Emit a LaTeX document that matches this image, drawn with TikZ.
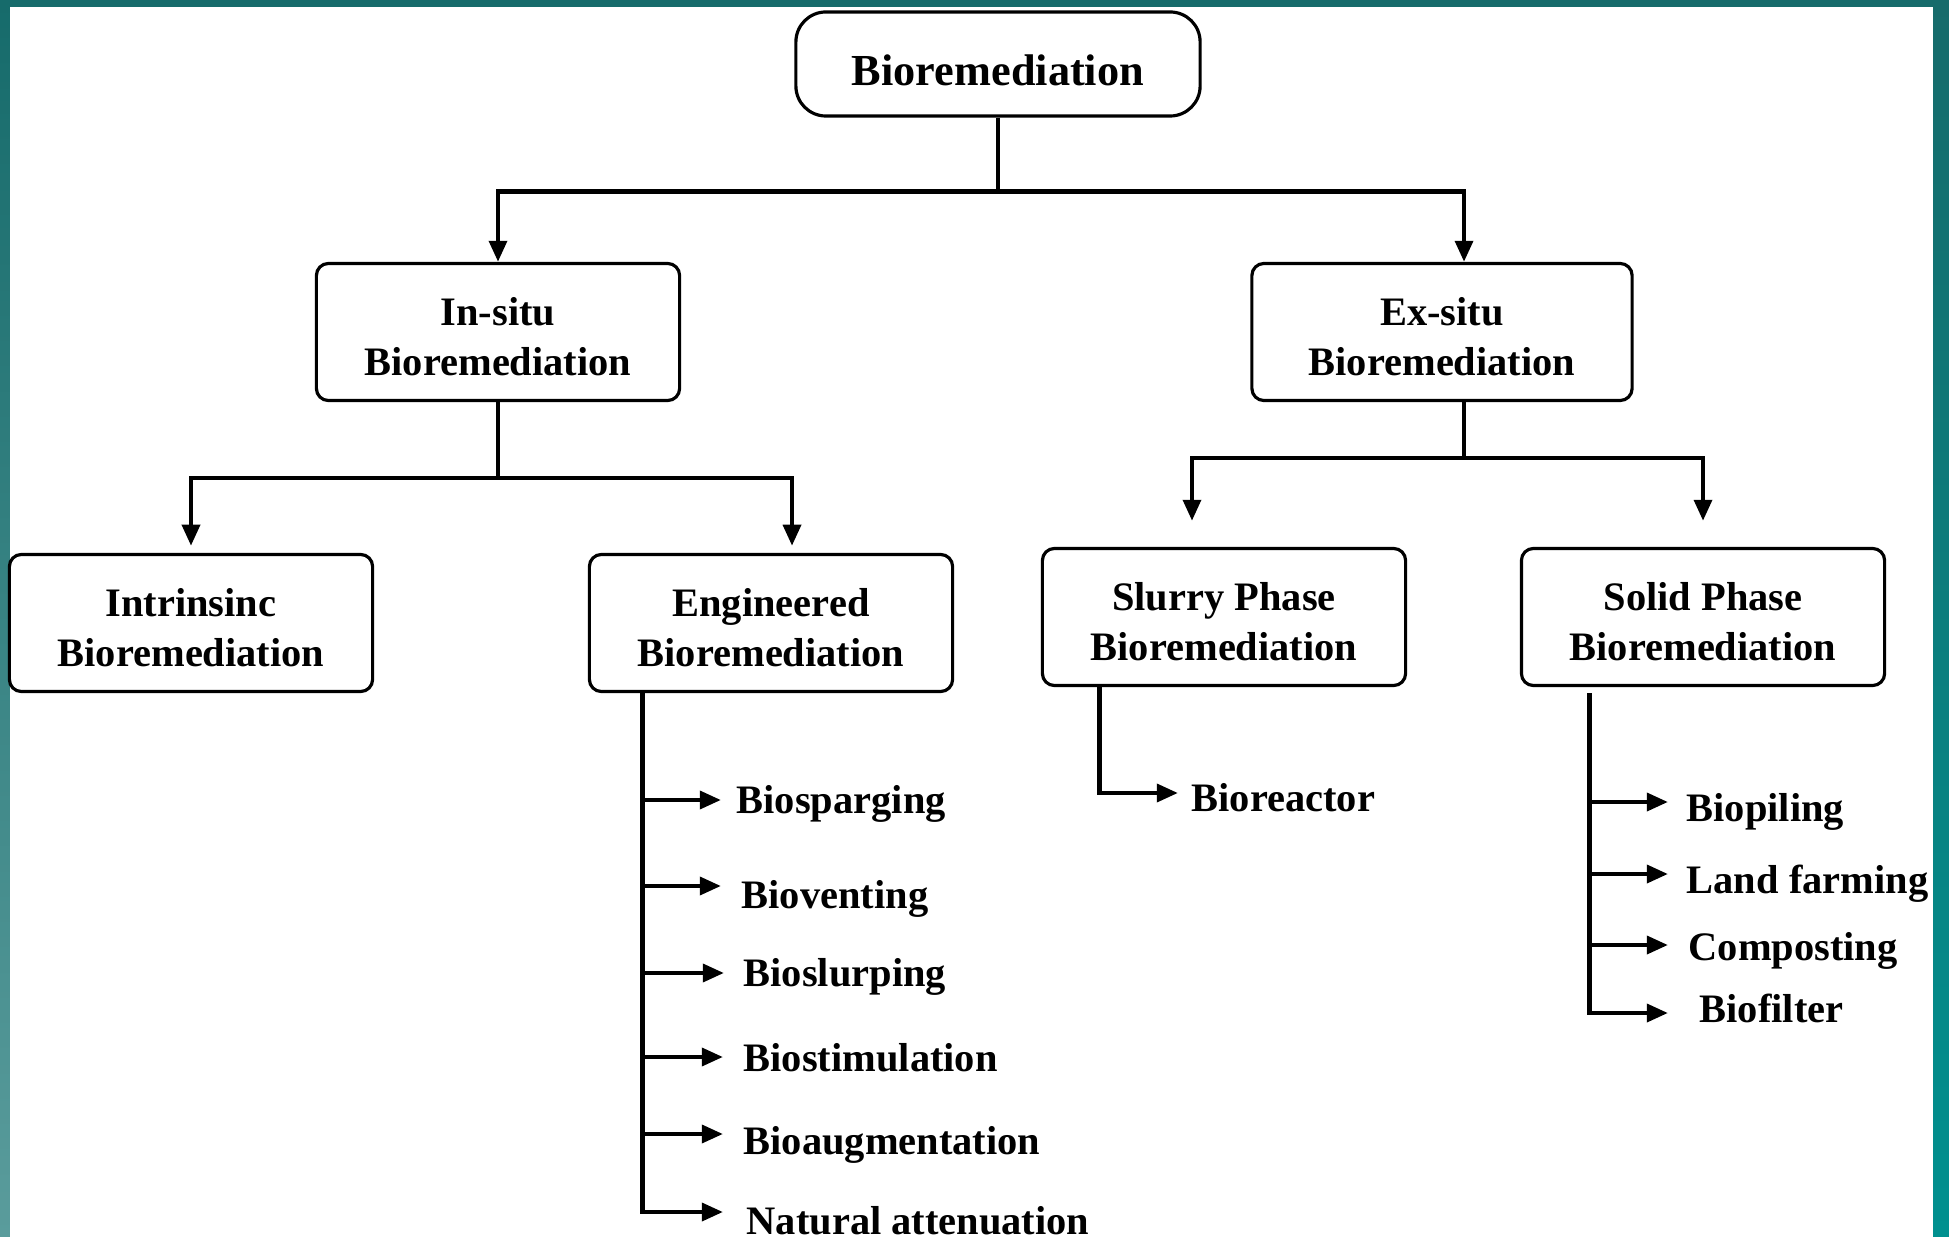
\documentclass[tikz,border=0pt]{standalone}
\usepackage{fontspec}
\setmainfont{Liberation Serif}
\usetikzlibrary{arrows.meta,positioning}
\definecolor{frameteal}{HTML}{166B6B}
\definecolor{frametealb}{HTML}{5A9C9C}
\definecolor{frametealc}{HTML}{00908F}

\begin{document}
\begin{tikzpicture}[x=0.01cm, y=-0.01cm, >={Triangle[length=6pt,width=5pt]}, font=\bfseries\fontsize{11.5}{14.2}\selectfont]
\tikzstyle{box}=[draw, line width=0.9pt, rounded corners=0.12cm, align=center, minimum width=3.63cm, minimum height=1.37cm, inner sep=2pt, text height=24.8pt]
\tikzstyle{conn}=[line width=1.3pt]
\tikzstyle{item}=[anchor=west, inner sep=0pt, text height=7.6pt, text depth=0pt]

\useasboundingbox (0,0) rectangle (1949,1237);
% teal frame round the page
\fill[frameteal] (0,0) rectangle (1949,1237);
\shade[top color=frameteal, bottom color=frametealb] (0,0) rectangle (10,1237);
\shade[top color=frameteal, bottom color=frametealc] (1933,0) rectangle (1949,1237);
\fill[white] (10,7) rectangle (1933,1237);

% boxes
\node[box, rounded corners=0.3cm, minimum width=4.04cm, minimum height=1.04cm, text height=12.1pt, font=\bfseries\fontsize{12.6}{15}\selectfont] (bio) at (998,64) {Bioremediation};
\node[box] (insitu) at (498,332) {In-situ\\Bioremediation};
\node[box, minimum width=3.8cm] (exsitu) at (1442,332) {Ex-situ\\Bioremediation};
\node[box] (intr) at (191,623) {Intrinsinc\\Bioremediation};
\node[box] (eng) at (771,623) {Engineered\\Bioremediation};
\node[box] (slurry) at (1224,617) {Slurry Phase\\Bioremediation};
\node[box] (solid) at (1703,617) {Solid Phase\\Bioremediation};

% tree
\draw[conn] (bio.south) -- ++(0,74) coordinate (j0);
\draw[conn,->] (j0) -| (insitu.north);
\draw[conn,->] (j0) -| ([xshift=0.22cm]exsitu.north);
\draw[conn] (insitu.south) -- ++(0,76) coordinate (j1);
\draw[conn,->, shorten >=2pt] (j1) -| (intr.north);
\draw[conn,->, shorten >=2pt] (j1) -| ([xshift=0.21cm]eng.north);
\draw[conn] ([xshift=0.22cm]exsitu.south) -- ++(0,56) coordinate (j2);
\draw[conn,->, shorten >=0.26cm] (j2) -| ([xshift=-0.32cm]slurry.north);
\draw[conn,->, shorten >=0.26cm] (j2) -| (solid.north);

% engineered methods
\coordinate (et) at ([xshift=0.545cm]eng.south west);
\coordinate (a1) at (721,800);
\coordinate (a2) at (721,886);
\coordinate (a3) at (724,973);
\coordinate (a4) at (723,1057);
\coordinate (a5) at (723,1134);
\coordinate (a6) at (723,1212);
\node[item] (bsp) at (736,800) {Biosparging};
\node[item] (bve) at (741,895) {Bioventing};
\node[item] (bsl) at (743,973) {Bioslurping};
\node[item] (bst) at (743,1058) {Biostimulation};
\node[item] (bau) at (743,1141) {Bioaugmentation};
\node[item] (nat) at (746,1221) {Natural attenuation};
\draw[conn,->] (et) |- (a6);
\draw[conn,->] (et |- a1) -- (a1);
\draw[conn,->] (et |- a2) -- (a2);
\draw[conn,->] (et |- a3) -- (a3);
\draw[conn,->] (et |- a4) -- (a4);
\draw[conn,->] (et |- a5) -- (a5);

% slurry phase
\coordinate (st) at ([xshift=0.585cm]slurry.south west);
\coordinate (r1) at (1178,793);
\node[item] (brx) at (1191,798) {Bioreactor};
\draw[conn,->] (st) |- (r1);

% solid phase
\coordinate (ot) at ([xshift=0.695cm, yshift=-0.06cm]solid.south west);
\coordinate (s1) at (1668,802);
\coordinate (s2) at (1668,874);
\coordinate (s3) at (1668,945);
\coordinate (s4) at (1668,1013);
\node[item] (bpi) at (1686,808) {Biopiling};
\node[item] (lfa) at (1686,880) {Land farming};
\node[item] (com) at (1688,947) {Composting};
\node[item] (bfi) at (1699,1009) {Biofilter};
\draw[conn,->] (ot) |- (s4);
\draw[conn,->] (ot |- s1) -- (s1);
\draw[conn,->] (ot |- s2) -- (s2);
\draw[conn,->] (ot |- s3) -- (s3);
\end{tikzpicture}
\end{document}
